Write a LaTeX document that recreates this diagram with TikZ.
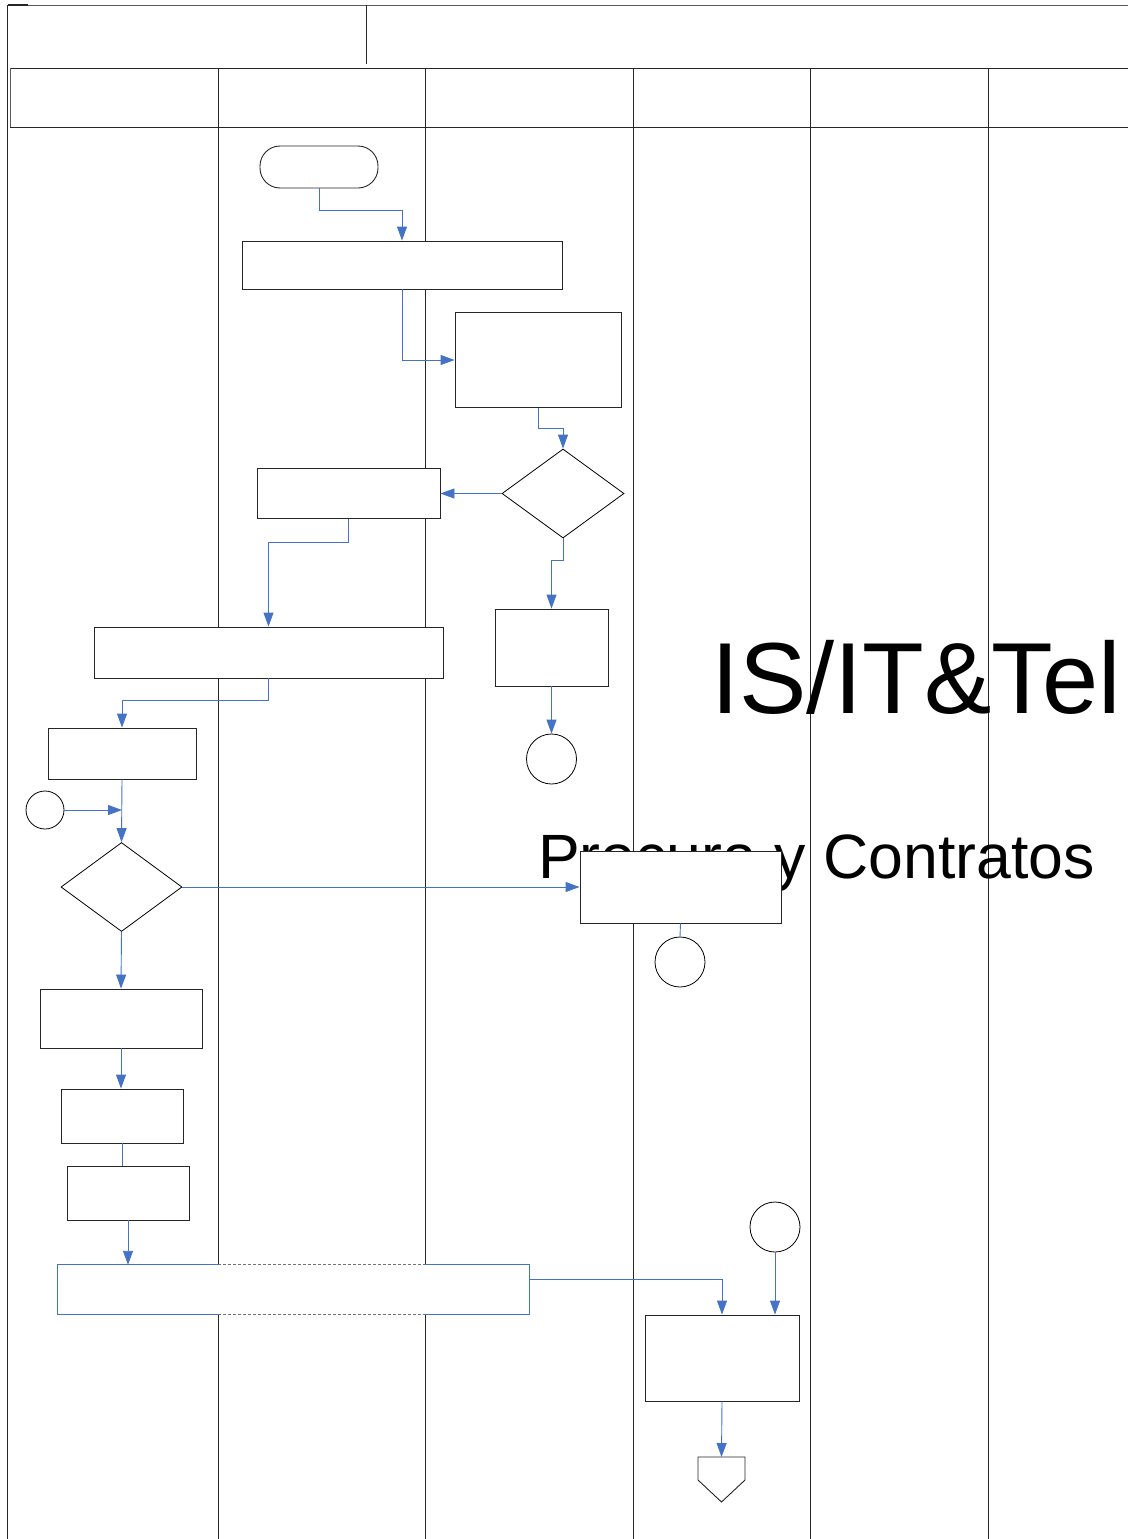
\documentclass[tikz,border=0pt]{standalone}
\usepackage{fontspec}
\setmainfont{Liberation Sans}
\usetikzlibrary{arrows.meta,shapes.geometric}
\definecolor{flow}{RGB}{68,114,196}
\begin{document}
\begin{tikzpicture}[x=1pt,y=-1pt,
  lane/.style={line width=0.9pt, draw=black!85},
  hdr/.style={line width=1pt, draw=black!65},
  box/.style={draw=black!85, line width=0.9pt, fill=white, rectangle, inner sep=0pt},
  term/.style={box, rounded corners=20pt},
  dia/.style={draw=black, line width=0.8pt, fill=white, diamond, inner sep=0pt},
  circ/.style={draw=black, line width=0.8pt, fill=white, circle, inner sep=0pt},
  conn/.style={draw=flow, line width=0.9pt},
  arr/.style={conn, -{Triangle[length=14pt,width=10pt]}},
  sepdash/.style={draw=black!55, line width=0.9pt, dash pattern=on 3pt off 2pt},
  bigtxt/.style={anchor=base west, inner sep=0pt},
]
\useasboundingbox (0,0) rectangle (1128,1539);
\fill[white] (0,0) rectangle (1128,1539);

% header and lanes
\coordinate (L1) at (218,68);
\coordinate (L2) at (425,68);
\coordinate (L3) at (633,68);
\coordinate (L4) at (810,68);
\coordinate (L5) at (988,68);
\draw[hdr] (7,5) -- (1128,5);
\draw[line width=2pt, draw=black!85] (8,4.5) -- (28,4.5);
\draw[lane] (7,5) -- (7,1539);
\draw[lane] (366,5) -- (366,64);
\draw[lane] (10,68) -- (1128,68);
\draw[lane] (10,127) -- (1128,127);
\draw[hdr] (10,68) -- (10,127);
\foreach \l in {L1,L2,L3,L4,L5} \draw[lane] (\l) -- (\l |- 0,1539);

% big texts
\node[bigtxt, font=\fontsize{101}{112}\selectfont] (t1) at (711,713) {IS/IT\&Tel};
\node[bigtxt, font=\fontsize{62.6}{70}\selectfont] (t2) at (538,878) {Procura y Contratos};

% nodes
\node[term, minimum width=118pt, minimum height=42pt] (st) at (319,167) {};
\node[box, minimum width=320pt, minimum height=48pt] (b1) at (402,265) {};
\node[box, minimum width=166pt, minimum height=95pt] (b2) at (538,360) {};
\node[dia, minimum width=122pt, minimum height=89pt] (d1) at (563,493.5) {};
\node[box, minimum width=183pt, minimum height=50pt] (b3) at (348.5,493.5) {};
\node[box, minimum width=113pt, minimum height=77pt] (b4) at (551.5,647.5) {};
\node[circ, minimum size=50pt] (c1) at (551.5,759) {};
\node[box, minimum width=349pt, minimum height=51pt] (b5) at (268.5,652.5) {};
\node[box, minimum width=148pt, minimum height=51pt] (b6) at (122,753.5) {};
\node[circ, minimum size=38pt] (c2) at (45,810) {};
\node[dia, minimum width=121pt, minimum height=89pt] (d2) at (121.5,887) {};
\node[box, minimum width=201pt, minimum height=72pt] (b7) at (680.5,887) {};
\node[circ, minimum size=50pt] (c3) at (680,962) {};
\node[box, minimum width=162pt, minimum height=59pt] (b8) at (121,1018.5) {};
\node[box, minimum width=122pt, minimum height=54pt] (b9) at (122,1116) {};
\node[box, minimum width=122pt, minimum height=54pt] (b10) at (128,1193) {};
\node[fill=white, inner sep=0pt, minimum width=471pt, minimum height=49pt] (b11) at (293.5,1289.5) {};
\node[box, minimum width=154pt, minimum height=86pt] (b12) at (722,1358) {};
\node[circ, minimum size=50pt] (c4) at (775,1227) {};
\coordinate (off) at (721.5,1457);
\draw[black!85, line width=0.9pt, fill=white] (off) ++(-23.5,0) -- ++(47,0) -- ++(0,23) -- ++(-23.5,22) -- ++(-23.5,-22) -- cycle;

% wide blue box split across lanes
\draw[conn] (b11.north west -| L1) -- (b11.north west) -- (b11.south west) -- (b11.south west -| L1);
\draw[conn] (b11.north east -| L2) -- (b11.north east) -- (b11.south east) -- (b11.south east -| L2);
\draw[sepdash] (b11.north west -| L1) -- (b11.north west -| L2);
\draw[sepdash] (b11.south west -| L1) -- (b11.south west -| L2);

% connectors
\draw[arr] (st.south) -- ++(0,22) -| (b1.north);
\draw[arr] (b1.south) |- (b2.west);
\draw[arr] (b2.south) -- ++(0,20) -| (d1.north);
\draw[arr] (d1.west) -- (b3.east);
\draw[arr] (d1.south) -- ++(0,22) -| (b4.north);
\draw[arr] (b4.south) -- (c1.north);
\draw[arr] (b3.south) -- ++(0,23) -| (b5.north);
\draw[arr] (b5.south) -- ++(0,22) -| (b6.north);
\draw[arr] (c2.east) -- (c2.east -| b6.south);
\draw[arr] (b6.south) -- (d2.north);
\draw[arr] (d2.east) -- (b7.west);
\draw[conn] (b7.south) -- (c3.north);
\draw[arr] (d2.south) -- (b8.north);
\draw[arr] (b8.south) -- (b8.south |- b9.north);
\draw[conn] (b9.south) -- (b9.south |- b10.north);
\draw[arr] (b10.south) -- (b10.south |- b11.north);
\draw[arr] ([yshift=10.5pt]b11.east) -| (b12.north);
\draw[arr] (c4.south) -- (c4.south |- b12.north);
\draw[arr] (b12.south) -- (off);
\end{tikzpicture}
\end{document}
